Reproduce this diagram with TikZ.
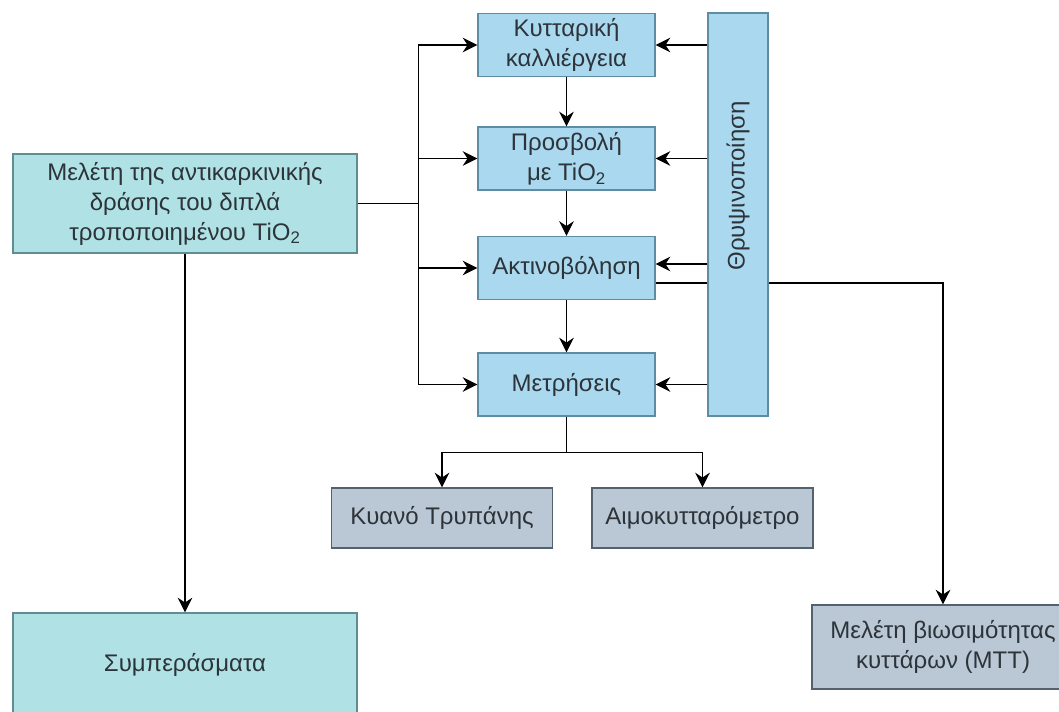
\documentclass[tikz,border=0pt]{standalone}
\usepackage{fontspec}
\setmainfont{Liberation Sans}
\usetikzlibrary{arrows.meta,positioning,backgrounds}
\definecolor{studyteal}{RGB}{176,226,229}
\definecolor{studyedge}{RGB}{96,140,146}
\definecolor{stepblue}{RGB}{170,216,238}
\definecolor{stepedge}{RGB}{94,140,165}
\definecolor{assaygray}{RGB}{186,199,213}
\definecolor{assayedge}{RGB}{84,98,112}
\definecolor{textgray}{RGB}{44,52,58}

\begin{document}
\begin{tikzpicture}[x=0.75pt, y=-0.75pt,
    base/.style={rectangle, draw, line width=0.9pt, text=textgray, align=center, inner sep=0pt, font=\fontsize{18}{22.5}\selectfont},
    study/.style={base, draw=studyedge, fill=studyteal, minimum width=258pt},
    stepbox/.style={base, draw=stepedge, fill=stepblue, minimum width=132.75pt, minimum height=47.25pt},
    assay/.style={base, draw=assayedge, fill=assaygray},
    arrow/.style={line width=1.2pt, -{Stealth[length=11pt, width=11pt]}, color=black},
    link/.style={line width=1.2pt, color=black}
]
    \useasboundingbox (0,0) rectangle (1059,711);

    % left column
    \node[study, minimum height=74.25pt] (study) at (185, 203.5) {Μελέτη της αντικαρκινικής\\δράσης του διπλά\\τροποποιημένου TiO\textsubscript{2}};
    \node[study, minimum height=78pt] (concl) at (185, 665) {Συμπεράσματα};

    % experimental steps
    \node[stepbox] (culture) at (566.5, 45) {Κυτταρική\\καλλιέργεια};
    \node[stepbox] (infect) at (566.5, 158.5) {Προσβολή\\με TiO\textsubscript{2}};
    \node[stepbox] (irrad) at (566.5, 268) {Ακτινοβόληση};
    \node[stepbox] (meas) at (566.5, 384.5) {Μετρήσεις};

    \node[base, draw=stepedge, fill=stepblue, minimum width=45pt, minimum height=302.25pt] (tryp) at (738, 214.5) {};
    \node[base, draw=none, rotate=90] (tryplabel) at (738, 186) {Θρυψινοποίηση};

    % assays
    \node[assay, minimum width=165.75pt, minimum height=45pt] (trypan) at (442, 518) {Κυανό Τρυπάνης};
    \node[assay, minimum width=165.75pt, minimum height=45pt] (hemo) at (702.5, 518) {Αιμοκυτταρόμετρο};
    \node[assay, minimum width=196.5pt, minimum height=63pt] (mtt) at (943, 647) {Μελέτη βιωσιμότητας\\κυττάρων (MTT)};

    \coordinate (irradin) at ([yshift=3pt]irrad.east);
    \coordinate (irradout) at ([yshift=-11.25pt]irrad.east);

    \draw[arrow] (study.south) -- (concl.north);

    \draw[link] (study.east) -- ++(61,0) coordinate (bus);
    \draw[arrow] (bus) |- (culture.west);
    \draw[arrow] (bus) |- (infect.west);
    \draw[arrow] (bus) |- (irrad.west);
    \draw[arrow] (bus) |- (meas.west);

    \draw[arrow] (culture) -- (infect);
    \draw[arrow] (infect) -- (irrad);
    \draw[arrow] (irrad) -- (meas);

    \draw[arrow] (tryp.west |- culture.east) -- (culture.east);
    \draw[arrow] (tryp.west |- infect.east) -- (infect.east);
    \draw[arrow] (tryp.west |- irradin) -- (irradin);
    \draw[arrow] (tryp.west |- meas.east) -- (meas.east);

    \begin{scope}[on background layer]
        \draw[arrow] (irradout) -| (mtt.north);
    \end{scope}

    \draw[link] (meas.south) -- ++(0,36) coordinate (split);
    \draw[arrow] (split) -| (trypan.north);
    \draw[arrow] (split) -| (hemo.north);
\end{tikzpicture}
\end{document}
